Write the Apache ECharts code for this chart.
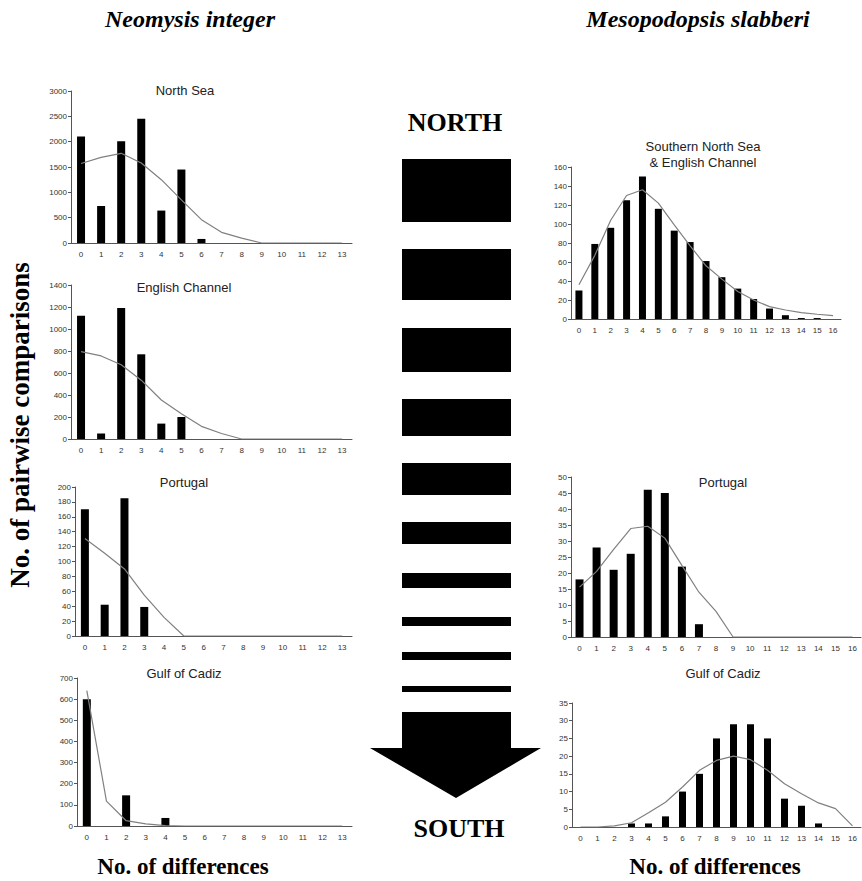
<!DOCTYPE html>
<html>
<head>
<meta charset="utf-8">
<script src="https://cdn.jsdelivr.net/npm/echarts@6/dist/echarts.min.js"></script>
<style>html,body{margin:0;padding:0;background:#fff}#c{width:862px;height:881px}</style>
</head>
<body>
<div id="c"></div>
<script>
// ---- data ----
const cats14 = ['0','1','2','3','4','5','6','7','8','9','10','11','12','13'];
const cats17 = ['0','1','2','3','4','5','6','7','8','9','10','11','12','13','14','15','16'];

// Neomysis integer
const northSeaBars = [2100, 730, 2010, 2450, 640, 1450, 80, 0, 0, 0, 0, 0, 0, 0];
const northSeaLine = [1570, 1690, 1770, 1580, 1250, 850, 460, 210, 95, 0, 0, 0, 0, 0];
const englishChannelBars = [1120, 50, 1190, 770, 140, 200, 0, 0, 0, 0, 0, 0, 0, 0];
const englishChannelLine = [795, 755, 675, 535, 355, 230, 115, 50, 0, 0, 0, 0, 0, 0];
const portugalNBars = [170, 42, 185, 39, 0, 0, 0, 0, 0, 0, 0, 0, 0, 0];
const portugalNLine = [131, 111, 90, 55, 25, 0, 0, 0, 0, 0, 0, 0, 0, 0];
const cadizNBars = [600, 0, 145, 0, 38, 0, 0, 0, 0, 0, 0, 0, 0, 0];
const cadizNLine = [640, 118, 25, 10, 2, 0, 0, 0, 0, 0, 0, 0, 0, 0];

// Mesopodopsis slabberi
const snsBars = [30, 79, 96, 125, 150, 116, 93, 81, 61, 44, 32, 21, 11, 4, 1, 1, 0];
const snsLine = [36, 67, 104, 130, 136, 122, 99, 77, 56, 42, 29, 20, 13, 9.5, 6.7, 5, 3.5];
const portugalMBars = [18, 28, 21, 26, 46, 45, 22, 4, 0, 0, 0, 0, 0, 0, 0, 0, 0];
const portugalMLine = [15.6, 20.5, 27.4, 33.9, 34.6, 30.9, 22.4, 14, 8, 0, 0, 0, 0, 0, 0, 0, 0];
const cadizMBars = [0, 0, 0, 1, 1, 3, 10, 15, 25, 29, 29, 25, 8, 6, 1, 0, 0];
const cadizMLine = [0, 0, 0.3, 1.2, 4, 7, 11.3, 16, 18.8, 20, 19, 16, 12.2, 9.4, 6.8, 5.2, 0.3];

const panelTitles = ['North Sea', 'English Channel', 'Portugal', 'Gulf of Cadiz',
                     'Southern North Sea\n& English Channel', 'Portugal', 'Gulf of Cadiz'];
const yMax = [3000, 1400, 200, 700, 160, 50, 35];
const yStep = [500, 200, 20, 100, 20, 5, 5];

// ---- layout (styles/positions) ----
const panels = [
  {cats: cats14, bars: northSeaBars, line: northSeaLine, grid: {left: 71, top: 91, width: 281, height: 152}, bw: 8, title: [185, 90]},
  {cats: cats14, bars: englishChannelBars, line: englishChannelLine, grid: {left: 71, top: 285, width: 281, height: 154}, bw: 8, title: [184, 287]},
  {cats: cats14, bars: portugalNBars, line: portugalNLine, grid: {left: 75, top: 487, width: 277, height: 149}, bw: 8, title: [184, 482]},
  {cats: cats14, bars: cadizNBars, line: cadizNLine, grid: {left: 77, top: 678, width: 275, height: 148}, bw: 8, title: [184, 673]},
  {cats: cats17, bars: snsBars, line: snsLine, grid: {left: 571, top: 167, width: 270, height: 152}, bw: 7, title: [703, 154]},
  {cats: cats17, bars: portugalMBars, line: portugalMLine, grid: {left: 571, top: 477, width: 290, height: 160}, bw: 8, title: [723, 482]},
  {cats: cats17, bars: cadizMBars, line: cadizMLine, grid: {left: 572, top: 703, width: 289, height: 124}, bw: 7, title: [723, 673]}
];

const axisCol = '#555';
const labelFont = {fontSize: 8, color: '#333', fontFamily: 'Liberation Sans'};
const grids = [], xAxes = [], yAxes = [], series = [], graphics = [];

panels.forEach((p, i) => {
  grids.push(Object.assign({containLabel: false}, p.grid));
  xAxes.push({
    type: 'category', gridIndex: i, data: p.cats, boundaryGap: true,
    axisLine: {lineStyle: {color: axisCol, width: 1}},
    axisTick: {length: 3, lineStyle: {color: axisCol}},
    axisLabel: Object.assign({interval: 0, margin: 7}, labelFont),
    splitLine: {show: false}
  });
  yAxes.push({
    type: 'value', gridIndex: i, min: 0, max: yMax[i], interval: yStep[i],
    axisLine: {show: true, lineStyle: {color: axisCol, width: 1}},
    axisTick: {show: true, length: 3, lineStyle: {color: axisCol}},
    axisLabel: Object.assign({margin: 4, formatter: v => String(v)}, labelFont),
    splitLine: {show: false}
  });
  series.push({
    type: 'bar', xAxisIndex: i, yAxisIndex: i, data: p.bars, barWidth: p.bw,
    itemStyle: {color: '#000'}, silent: true
  });
  series.push({
    type: 'line', xAxisIndex: i, yAxisIndex: i, data: p.line, symbol: 'none',
    lineStyle: {color: '#808080', width: 1.2}, z: 5, silent: true
  });
  graphics.push({
    type: 'text', x: p.title[0], y: p.title[1],
    style: {text: panelTitles[i], fill: '#222', font: '13px "Liberation Sans"',
            textAlign: 'center', textVerticalAlign: 'middle', lineHeight: 16}
  });
});

// species headers and axis names
const serifBold = '"Liberation Serif", "DejaVu Serif", serif';
graphics.push({type: 'text', x: 190, y: 19, style: {text: 'Neomysis integer', fill: '#000',
  font: 'italic bold 24px ' + serifBold, textAlign: 'center', textVerticalAlign: 'middle'}});
graphics.push({type: 'text', x: 698, y: 19, style: {text: 'Mesopodopsis slabberi', fill: '#000',
  font: 'italic bold 24px ' + serifBold, textAlign: 'center', textVerticalAlign: 'middle'}});
graphics.push({type: 'text', x: 183, y: 866, style: {text: 'No. of differences', fill: '#000',
  font: 'bold 23px ' + serifBold, textAlign: 'center', textVerticalAlign: 'middle'}});
graphics.push({type: 'text', x: 715, y: 866, style: {text: 'No. of differences', fill: '#000',
  font: 'bold 23px ' + serifBold, textAlign: 'center', textVerticalAlign: 'middle'}});
graphics.push({type: 'text', x: 20, y: 425, rotation: Math.PI / 2, style: {text: 'No. of pairwise comparisons', fill: '#000',
  font: 'bold 27px ' + serifBold, textAlign: 'center', textVerticalAlign: 'middle'}});
graphics.push({type: 'text', x: 455, y: 122, style: {text: 'NORTH', fill: '#000',
  font: 'bold 26px ' + serifBold, textAlign: 'center', textVerticalAlign: 'middle'}});
graphics.push({type: 'text', x: 459, y: 828, style: {text: 'SOUTH', fill: '#000',
  font: 'bold 26px ' + serifBold, textAlign: 'center', textVerticalAlign: 'middle'}});

// north-to-south gradient stripes (decorative)
const stripes = [[159, 63], [249, 51], [328, 44], [399, 37], [463, 32], [522, 22], [573, 15], [617, 9], [652, 8], [686, 6]];
stripes.forEach(s => graphics.push({type: 'rect', shape: {x: 402, y: s[0], width: 109, height: s[1]}, style: {fill: '#000'}}));
graphics.push({type: 'polygon', shape: {points: [[402, 712], [511, 712], [511, 748], [541, 748], [456, 798], [370, 748], [402, 748]]}, style: {fill: '#000'}});

const chart = echarts.init(document.getElementById('c'), null, {renderer: 'svg'});
chart.setOption({
  animation: false,
  backgroundColor: '#fff',
  grid: grids, xAxis: xAxes, yAxis: yAxes, series: series,
  graphic: graphics
});
</script>
</body>
</html>
